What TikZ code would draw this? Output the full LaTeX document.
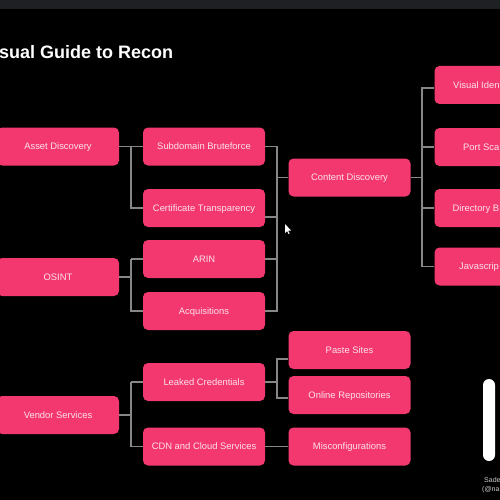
\documentclass[tikz,border=0pt]{standalone}
\usepackage{fontspec}
\setmainfont{Liberation Sans}
\usetikzlibrary{calc}
\definecolor{pinkbox}{RGB}{243,56,112}
\definecolor{pinktext}{RGB}{252,226,234}
\definecolor{connc}{RGB}{135,135,135}
\definecolor{topbar}{RGB}{31,32,35}
\tikzset{
  box/.style={rectangle, rounded corners=5pt, fill=pinkbox, minimum width=122pt, minimum height=38pt, inner sep=0pt, text=pinktext, text height=6.7pt, text depth=0pt, font=\fontsize{9.4}{11}\selectfont},
  lbl/.style={inner sep=0pt, text=pinktext, text height=6.7pt, text depth=0pt, font=\fontsize{9.4}{11}\selectfont, anchor=west},
  conn/.style={draw=connc, line width=1.1pt},
}
\begin{document}
\begin{tikzpicture}[x=1pt,y=-1pt]
\useasboundingbox (0,0) rectangle (500,500);
\clip (0,0) rectangle (500,500);
\fill[black] (0,0) rectangle (500,500);
\fill[topbar] (0,0) rectangle (500,9);
\node[anchor=base west, inner sep=0pt, text=white, font=\bfseries\fontsize{18}{20}\selectfont] (title) at (-1,59) {sual Guide to Recon};

% bus coordinates
\coordinate (b1) at (131,0);
\coordinate (b2) at (277,0);
\coordinate (b3) at (422,0);

% column 1
\node[box] (ad) at (58,146.5) {Asset Discovery};
\node[box] (os) at (58,277) {OSINT};
\node[box] (vs) at (58,415) {Vendor Services};

% column 2
\node[box] (sb) at (204,146.5) {Subdomain Bruteforce};
\node[box] (ct) at (204,208) {Certificate Transparency};
\node[box] (ar) at (204,259) {ARIN};
\node[box] (aq) at (204,311) {Acquisitions};
\node[box] (lc) at (204,382) {Leaked Credentials};
\node[box] (cdn) at (204,446.5) {CDN and Cloud Services};

% column 3
\node[box] (cd) at (349.5,177.5) {Content Discovery};
\node[box] (ps) at (349.5,350) {Paste Sites};
\node[box] (or) at (349.5,395) {Online Repositories};
\node[box] (mc) at (349.5,446.5) {Misconfigurations};

% column 4 (clipped at right edge)
\node[box] (vi) at (495.5,85) {};
\node[box] (pt) at (495.5,147) {};
\node[box] (db) at (495.5,208) {};
\node[box] (js) at (495.5,266.5) {};
\node[lbl] (vil) at (453,85) {Visual Iden};
\node[lbl] (ptl) at (463,147) {Port Sca};
\node[lbl] (dbl) at (452.5,208) {Directory B};
\node[lbl] (jsl) at (459,266.5) {Javascrip};

% connectors column1 -> column2
\draw[conn] (ad.east) -- (sb.west);
\draw[conn] (ad.east -| b1) |- (ct.west);
\draw[conn] (os.east) -- (os.east -| b1);
\draw[conn] (ar.west -| b1) |- (ar.west);
\draw[conn] (ar.west -| b1) |- (aq.west);
\draw[conn] (vs.east) -- (vs.east -| b1);
\draw[conn] (lc.west -| b1) |- (lc.west);
\draw[conn] (lc.west -| b1) |- (cdn.west);

% column2 -> content discovery
\draw[conn] (sb.east) -- (sb.east -| b2) |- (aq.east);
\draw[conn] ($(ct.east)+(0,9)$) -- ($(ct.east -| b2)+(0,9)$);
\draw[conn] (ar.east) -- (ar.east -| b2);
\draw[conn] (cd.west -| b2) -- (cd.west);

% content discovery -> column 4
\draw[conn] (cd.east) -- (cd.east -| b3);
\draw[conn] ($(vi.west)+(0,3)$) -| (b3 |- js.west) -- (js.west);
\draw[conn] (pt.west -| b3) -- (pt.west);
\draw[conn] (db.west -| b3) -- (db.west);

% leaked credentials -> paste / online
\draw[conn] (lc.east) -- (lc.east -| b2);
\draw[conn] ($(ps.west)+(0,9)$) -| ($(or.west -| b2)+(0,3)$) -- ($(or.west)+(0,3)$);
\draw[conn] (cdn.east) -- (mc.west);

% white pill and caption at bottom right
\fill[white, rounded corners=6pt] (483,379) rectangle (495,461);
\node[anchor=west, inner sep=0pt, text=white!80!black, font=\fontsize{7}{8}\selectfont] (cap1) at (484,480) {Sade};
\node[anchor=west, inner sep=0pt, text=white!80!black, font=\fontsize{7}{8}\selectfont] (cap2) at (482,490) {(@na};

% mouse cursor
\fill[white] (285,224) -- (285,233) -- (287,231) -- (288.5,234) -- (289.5,233.5) -- (288,230.5) -- (291,230.5) -- cycle;
\end{tikzpicture}
\end{document}
